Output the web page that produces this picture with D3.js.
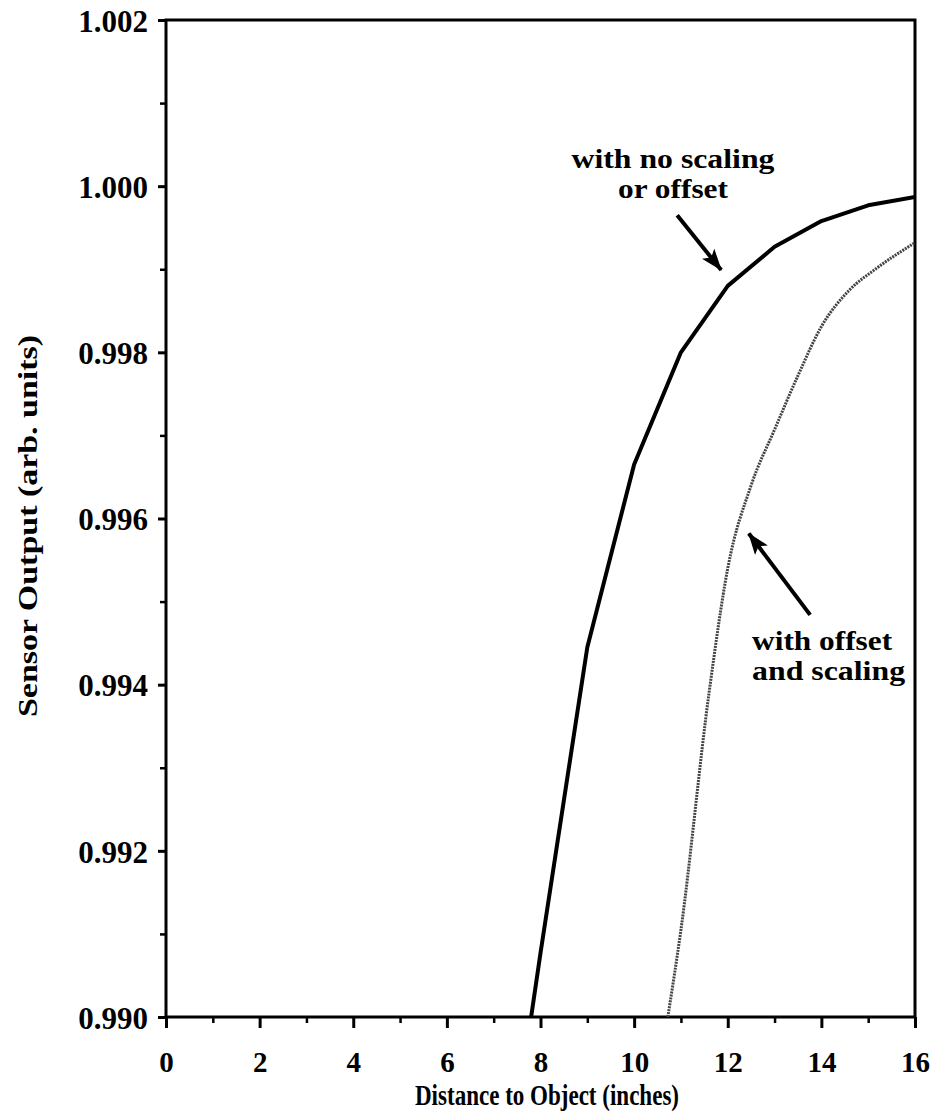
<!DOCTYPE html>
<html>
<head>
<meta charset="utf-8">
<script src="https://cdn.jsdelivr.net/npm/d3@7"></script>
<style>
  body { margin: 0; background: #fff; }
  text { font-family: "Liberation Serif", "Times New Roman", serif; font-weight: bold; fill: #000; }
</style>
</head>
<body>
<svg id="chart"></svg>
<script>
// distance to object (inches) vs sensor output (arb. units)
let noScalingX = [7.8, 8, 9, 10, 11, 12, 13, 14, 15, 16];
let noScalingY = [0.990, 0.99077, 0.99445, 0.99665, 0.99800, 0.99880, 0.99927, 0.99958, 0.99977, 0.99987];

let scaledX = [10.72, 11, 11.6, 12, 12.5, 13, 13.5, 14, 14.6, 15.15, 16];
let scaledY = [0.990, 0.99105, 0.99390, 0.99540, 0.99640, 0.99707, 0.99772, 0.99831, 0.99875, 0.99900, 0.99932];

let xTicks = [0, 2, 4, 6, 8, 10, 12, 14, 16];
let yTicks = [0.990, 0.992, 0.994, 0.996, 0.998, 1.000, 1.002];

let notes = [
  { lines: ['with no scaling', 'or offset'], x: 10.83, y: 1.00022, anchor: 'middle', lens: [203, 110] },
  { lines: ['with offset', 'and scaling'], x: 12.52, y: 0.99442, anchor: 'start', lens: [140, 153] }
];
let arrows = [
  { x1: 10.92, y1: 0.99965, x2: 11.86, y2: 0.99899 },
  { x1: 13.76, y1: 0.99484, x2: 12.45, y2: 0.99582 }
];

let W = 936, H = 1114;
let margin = { left: 166, right: 21, top: 20, bottom: 97 };

let svg = d3.select('#chart')
  .attr('width', W)
  .attr('height', H);

let xScale = d3.scaleLinear()
  .domain([0, 16])
  .range([margin.left, W - margin.right]);

let yScale = d3.scaleLinear()
  .domain([0.990, 1.002])
  .range([H - margin.bottom, margin.top]);

let defs = svg.append('defs');
defs.append('clipPath').attr('id', 'plot-clip')
  .append('rect')
  .attr('x', xScale(0))
  .attr('y', yScale(1.002))
  .attr('width', xScale(16) - xScale(0))
  .attr('height', yScale(0.990) - yScale(1.002));

defs.append('marker')
  .attr('id', 'head')
  .attr('markerUnits', 'userSpaceOnUse')
  .attr('viewBox', '0 0 22 16')
  .attr('refX', 21)
  .attr('refY', 8)
  .attr('markerWidth', 22)
  .attr('markerHeight', 16)
  .attr('orient', 'auto')
  .append('path')
  .attr('d', 'M0,0 L22,8 L0,16 L5,8 Z')
  .attr('fill', '#000');

// minor ticks first
svg.append('g')
  .attr('transform', `translate(0,${yScale(0.990)})`)
  .call(d3.axisBottom(xScale).tickValues(d3.range(1, 16, 2)).tickSize(6).tickFormat(''))
  .call(g => g.select('.domain').remove())
  .selectAll('line').attr('stroke-width', 2.5);

svg.append('g')
  .attr('transform', `translate(${xScale(0)},0)`)
  .call(d3.axisLeft(yScale).tickValues(d3.range(0.991, 1.002, 0.002)).tickSize(6).tickFormat(''))
  .call(g => g.select('.domain').remove())
  .selectAll('line').attr('stroke-width', 2.5);

let xAxis = svg.append('g')
  .attr('transform', `translate(0,${yScale(0.990)})`)
  .call(d3.axisBottom(xScale).tickValues(xTicks).tickSize(11).tickFormat(d3.format('d')));
xAxis.select('.domain').remove();
xAxis.selectAll('line').attr('stroke-width', 3);
xAxis.selectAll('text')
  .attr('y', 55)
  .attr('dy', null)
  .style('font-size', '29px')
  .style('font-family', '"Liberation Serif", serif')
  .style('font-weight', 'bold');

let yAxis = svg.append('g')
  .attr('transform', `translate(${xScale(0)},0)`)
  .call(d3.axisLeft(yScale).tickValues(yTicks).tickSize(8).tickPadding(10).tickFormat(d3.format('.3f')));
yAxis.select('.domain').remove();
yAxis.selectAll('line').attr('stroke-width', 3);
yAxis.selectAll('text')
  .attr('dy', '0.36em')
  .style('font-size', '31px')
  .style('font-family', '"Liberation Serif", serif')
  .style('font-weight', 'bold');

// frame
svg.append('rect')
  .attr('x', xScale(0))
  .attr('y', yScale(1.002))
  .attr('width', xScale(16) - xScale(0))
  .attr('height', yScale(0.990) - yScale(1.002))
  .attr('fill', 'none')
  .attr('stroke', '#000')
  .attr('stroke-width', 3);

let line = d3.line()
  .x(d => xScale(d[0]))
  .y(d => yScale(d[1]));

let plot = svg.append('g').attr('clip-path', 'url(#plot-clip)');

plot.append('path')
  .datum(d3.zip(scaledX, scaledY))
  .attr('fill', 'none')
  .attr('stroke', '#444')
  .attr('stroke-width', 3)
  .attr('stroke-dasharray', '2,1')
  .attr('d', line.curve(d3.curveMonotoneX));

line.curve(d3.curveLinear);

plot.append('path')
  .datum(d3.zip(noScalingX, noScalingY))
  .attr('fill', 'none')
  .attr('stroke', '#000')
  .attr('stroke-width', 4)
  .attr('stroke-linejoin', 'round')
  .attr('d', line);

// annotations
svg.selectAll('.arrow')
  .data(arrows)
  .enter()
  .append('line')
  .attr('class', 'arrow')
  .attr('x1', d => xScale(d.x1))
  .attr('y1', d => yScale(d.y1))
  .attr('x2', d => xScale(d.x2))
  .attr('y2', d => yScale(d.y2))
  .attr('stroke', '#000')
  .attr('stroke-width', 4)
  .attr('marker-end', 'url(#head)');

notes.forEach(n => {
  n.lines.forEach((s, i) => {
    svg.append('text')
      .attr('x', xScale(n.x))
      .attr('y', yScale(n.y) + i * 30)
      .attr('text-anchor', n.anchor)
      .attr('textLength', n.lens[i])
      .attr('lengthAdjust', 'spacingAndGlyphs')
      .style('font-size', '28px')
      .text(s);
  });
});

svg.append('text')
  .attr('x', 547)
  .attr('y', 1105)
  .attr('text-anchor', 'middle')
  .attr('textLength', 264)
  .attr('lengthAdjust', 'spacingAndGlyphs')
  .style('font-size', '30px')
  .text('Distance to Object (inches)');

svg.append('text')
  .attr('transform', 'translate(37,526) rotate(-90)')
  .attr('text-anchor', 'middle')
  .attr('textLength', 382)
  .attr('lengthAdjust', 'spacingAndGlyphs')
  .style('font-size', '28px')
  .text('Sensor Output (arb. units)');
</script>
</body>
</html>
